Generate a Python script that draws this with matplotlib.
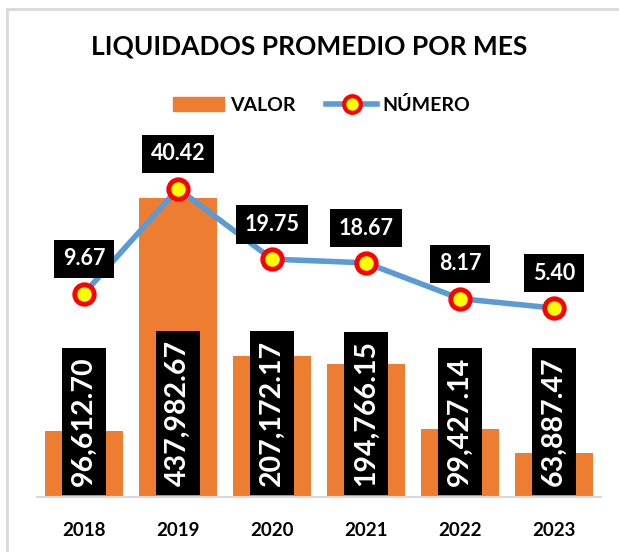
import matplotlib.pyplot as plt
from matplotlib.patches import Rectangle
from matplotlib.lines import Line2D

plt.rcParams['font.family'] = ['Lato', 'DejaVu Sans']

# data
years = ['2018', '2019', '2020', '2021', '2022', '2023']
valor = [96612.70, 437982.67, 207172.17, 194766.15, 99427.14, 63887.47]
numero = [9.67, 40.42, 19.75, 18.67, 8.17, 5.40]

bar_col = '#ED7D31'
line_col = '#5B9BD5'

fig = plt.figure(figsize=(6.19, 5.52), dpi=100)
# light frame around the chart
fig.patches.append(Rectangle((7/619, -0.1), 1.2, 1.1 - 9/552,
                             transform=fig.transFigure, fill=False,
                             edgecolor='#D9D9D9', linewidth=2))

ax = fig.add_axes([37/619, 55/552, 564/619, 341/552])
x = range(len(years))
ax.bar(x, valor, width=0.82, color=bar_col, zorder=2)
ax.set_ylim(0, 500000)
ax.set_xlim(-0.5, len(years) - 0.5)
ax.set_yticks([])
ax.set_xticks(list(x))
ax.set_xticklabels(years, fontsize=13.5, fontweight='bold')
ax.tick_params(axis='x', length=0, pad=18)
for s in ['top', 'right', 'left']:
    ax.spines[s].set_visible(False)
ax.spines['bottom'].set_color('#D9D9D9')
ax.spines['bottom'].set_linewidth(1.5)

for i, v in enumerate(valor):
    ax.text(i, 16000, f'{v:,.2f}', rotation=90, ha='center', va='bottom',
            color='white', fontsize=20.5, fontweight='bold', zorder=5,
            bbox=dict(boxstyle='square,pad=0.3', facecolor='black', edgecolor='none'))

ax2 = ax.twinx()
ax2.set_ylim(-50, 50)
ax2.set_yticks([])
for s in ax2.spines.values():
    s.set_visible(False)
ax2.plot(list(x), numero, color=line_col, linewidth=4, zorder=3,
         marker='o', markersize=14, markerfacecolor='#FFFF00',
         markeredgecolor='#FF0000', markeredgewidth=3.5)
for i, n in enumerate(numero):
    ax2.annotate(f'{n:.2f}', (i, n), xytext=(0, 25), textcoords='offset points',
                 ha='center', va='center', color='white', fontsize=15.5,
                 fontweight='bold', zorder=6,
                 bbox=dict(boxstyle='square,pad=0.4', facecolor='black', edgecolor='none'))

fig.text(0.5, 1 - 47/552, 'LIQUIDADOS PROMEDIO POR MES', ha='center', va='center',
         fontsize=19, fontweight='bold')

handles = [Rectangle((0, 0), 1, 1, color=bar_col),
           Line2D([0], [0], color=line_col, linewidth=4, marker='o', markersize=12,
                  markerfacecolor='#FFFF00', markeredgecolor='#FF0000', markeredgewidth=3)]
fig.legend(handles, ['VALOR', 'NÚMERO'], loc='center', bbox_to_anchor=(0.52, 1 - 105/552),
           ncol=2, frameon=False, prop={'size': 14, 'weight': 'bold'},
           handlelength=2.6, handletextpad=0.3, columnspacing=1.6)

plt.savefig('out.png', dpi=100)
